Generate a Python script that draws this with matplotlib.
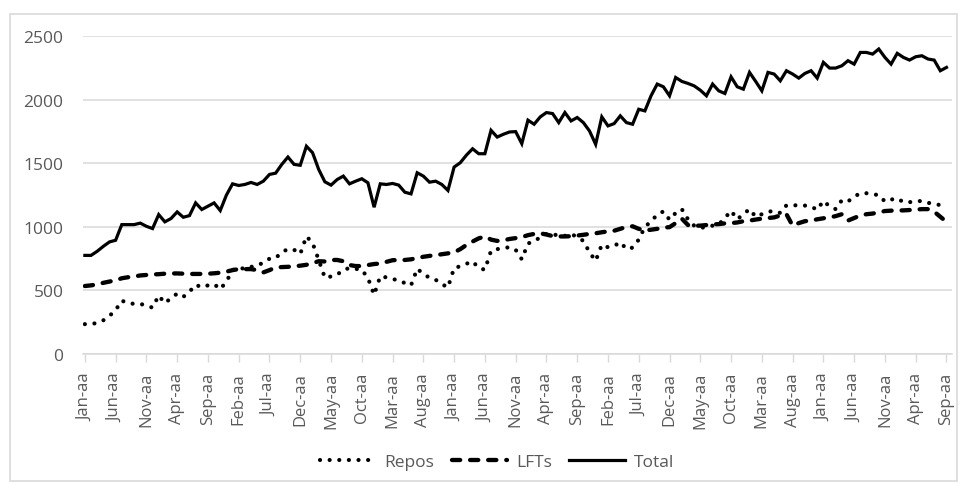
import matplotlib
matplotlib.use("Agg")
import matplotlib.pyplot as plt
from matplotlib.patches import Rectangle

# monthly series, Jan of the first year through Sep of the last
repos = [
    235, 235, 245, 265, 300, 345, 420, 400, 395, 395,
    380, 365, 460, 400, 440, 475, 450, 490, 545, 525,
    540, 550, 510, 570, 660, 680, 669, 685, 700, 716,
    750, 755, 800, 826, 820, 787, 926, 874, 740, 600,
    610, 624, 663, 676, 670, 663, 598, 466, 611, 603,
    590, 579, 558, 540, 671, 630, 600, 584, 550, 524,
    677, 690, 710, 729, 677, 663, 813, 825, 834, 840,
    820, 745, 870, 885, 920, 945, 935, 940, 930, 945,
    920, 890, 800, 733, 860, 840, 850, 880, 826, 837,
    900, 1000, 1044, 1096, 1122, 1057, 1110, 1140, 1060, 1010,
    992, 1000, 1010, 1020, 1070, 1127, 1060, 1100, 1140, 1080,
    1100, 1120, 1125, 1110, 1170, 1170, 1170, 1168, 1160, 1135,
    1205, 1162, 1140, 1210, 1200, 1238, 1265, 1265, 1258, 1250,
    1200, 1215, 1225, 1195, 1195, 1200, 1205, 1190, 1180, 1172,
    1170,
]

lfts = [
    535, 540, 548, 560, 570, 580, 596, 604, 610, 618,
    622, 626, 628, 632, 634, 634, 632, 630, 630, 630,
    632, 635, 640, 648, 660, 668, 668, 668, 660, 642,
    660, 681, 684, 686, 690, 695, 702, 715, 730, 728,
    740, 740, 730, 700, 692, 692, 700, 708, 712, 725,
    738, 740, 740, 745, 755, 765, 772, 778, 785, 792,
    800, 825, 858, 885, 910, 925, 900, 890, 895, 905,
    912, 920, 935, 945, 950, 940, 928, 925, 925, 927,
    932, 938, 945, 950, 958, 965, 970, 985, 1000, 1005,
    985, 972, 978, 985, 995, 998, 1030, 1065, 1015, 1010,
    1010, 1015, 1020, 1022, 1028, 1030, 1035, 1045, 1050, 1058,
    1065, 1070, 1075, 1090, 1100, 1010, 1030, 1045, 1050, 1060,
    1068, 1075, 1085, 1100, 1050, 1070, 1090, 1100, 1105, 1115,
    1125, 1128, 1130, 1130, 1133, 1136, 1140, 1140, 1120, 1080,
    1040,
]

total = [
    776, 776, 808, 847, 882, 895, 1018, 1018, 1018, 1030,
    1005, 987, 1097, 1040, 1066, 1118, 1076, 1089, 1189, 1137,
    1163, 1189, 1129, 1250, 1339, 1326, 1334, 1350, 1334, 1360,
    1413, 1423, 1492, 1550, 1492, 1485, 1635, 1584, 1452, 1355,
    1329, 1373, 1400, 1339, 1360, 1379, 1347, 1155, 1339, 1334,
    1342, 1329, 1273, 1260, 1426, 1400, 1352, 1360, 1334, 1287,
    1471, 1505, 1565, 1615, 1576, 1576, 1760, 1707, 1729, 1747,
    1750, 1655, 1840, 1808, 1866, 1900, 1892, 1821, 1900, 1834,
    1861, 1821, 1755, 1650, 1866, 1795, 1813, 1874, 1821, 1808,
    1926, 1913, 2032, 2124, 2103, 2032, 2176, 2145, 2129, 2110,
    2076, 2032, 2124, 2071, 2050, 2181, 2103, 2084, 2216, 2145,
    2071, 2216, 2203, 2150, 2229, 2203, 2171, 2208, 2229, 2171,
    2295, 2250, 2250, 2268, 2308, 2281, 2373, 2373, 2360, 2400,
    2334, 2281, 2366, 2334, 2313, 2339, 2347, 2321, 2313, 2229,
    2255,
]

tick_labels = [
    "Jan-aa", "Jun-aa", "Nov-aa", "Apr-aa", "Sep-aa", "Feb-aa", "Jul-aa",
    "Dec-aa", "May-aa", "Oct-aa", "Mar-aa", "Aug-aa", "Jan-aa", "Jun-aa",
    "Nov-aa", "Apr-aa", "Sep-aa", "Feb-aa", "Jul-aa", "Dec-aa", "May-aa",
    "Oct-aa", "Mar-aa", "Aug-aa", "Jan-aa", "Jun-aa", "Nov-aa", "Apr-aa",
    "Sep-aa",
]
tick_step = 5

plt.rcParams["font.family"] = ["Open Sans", "DejaVu Sans"]
grey = "#595959"
light = "#d9d9d9"

fig = plt.figure(figsize=(9.65, 4.85), dpi=100)
fig.patches.append(Rectangle((10 / 965, 3 / 485), 947 / 965, 467 / 485,
                             transform=fig.transFigure, fill=False,
                             edgecolor=light, linewidth=1.2))

ax = fig.add_axes([83 / 965, 130 / 485, 869 / 965, 317.7 / 485])
x = list(range(len(total)))

ax.plot(x, repos, color="black", linewidth=3.0, linestyle=(0, (0.01, 2.3)),
        dash_capstyle="round", label="Repos")
ax.plot(x, lfts, color="black", linewidth=3.1, linestyle=(0, (1.9, 2.3)),
        dash_capstyle="round", label="LFTs")
ax.plot(x, total, color="black", linewidth=2.3, solid_joinstyle="miter",
        label="Total")

ax.set_ylim(0, 2500)
ax.set_xlim(-0.3, 140.9)
ax.set_yticks(range(0, 2501, 500))
ax.yaxis.grid(True, color=light, linewidth=1.1)
ax.set_axisbelow(True)

ax.set_xticks(range(0, len(total), tick_step))
ax.set_xticklabels(tick_labels, rotation=90)
ax.tick_params(axis="x", colors=light, length=6, width=1, pad=7,
               labelcolor=grey, labelsize=12)
ax.tick_params(axis="y", length=0, pad=14, labelcolor=grey, labelsize=12.5)

for side in ["top", "right", "left"]:
    ax.spines[side].set_visible(False)
ax.spines["bottom"].set_color(light)
ax.spines["bottom"].set_linewidth(1.1)

fig.legend(loc="center", bbox_to_anchor=(497 / 965, 22 / 485), ncol=3,
           frameon=False, fontsize=12.5, handlelength=3.2, handletextpad=0.5,
           columnspacing=1.0, labelcolor=grey)

fig.savefig("out.png", dpi=100, facecolor="white")
